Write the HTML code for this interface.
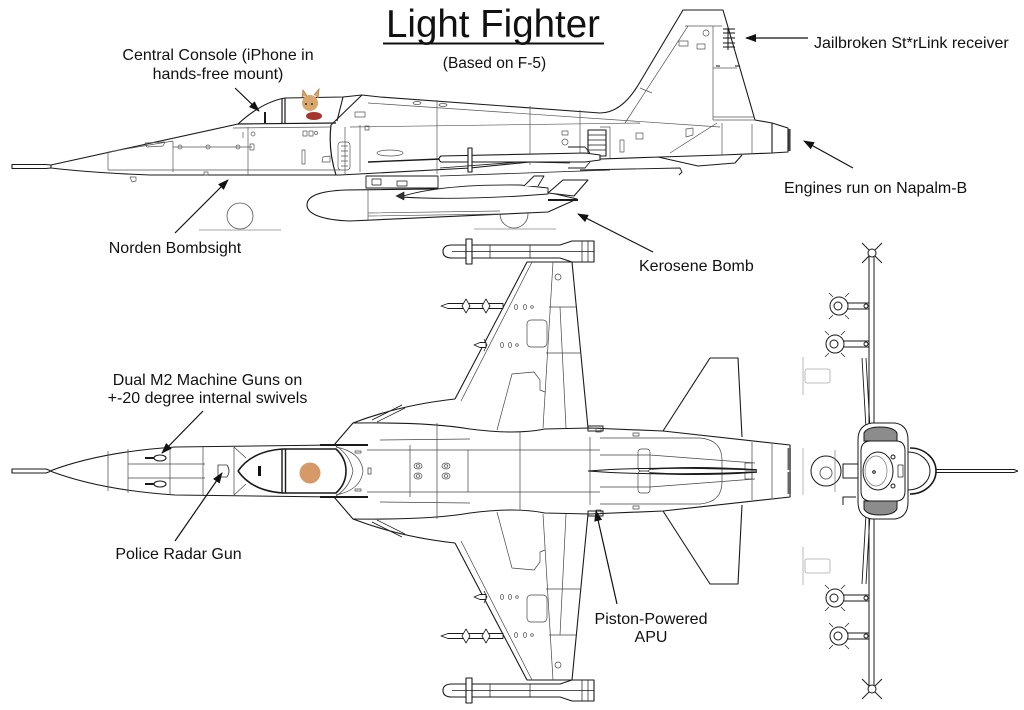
<!DOCTYPE html>
<html><head><meta charset="utf-8">
<style>
html,body{margin:0;padding:0;background:#fff;}
svg{display:block;}
text{font-family:"Liberation Sans",Arial,sans-serif;fill:#111;}
</style></head><body>
<svg width="1024" height="710" viewBox="0 0 1024 710" xmlns="http://www.w3.org/2000/svg">
<defs>
<marker id="ah" markerWidth="11" markerHeight="8" refX="10" refY="4" orient="auto" markerUnits="userSpaceOnUse">
<path d="M0,0 L11,4 L0,8 Z" fill="#111"/>
</marker>
</defs>
<rect width="1024" height="710" fill="#fff"/>

<!-- ================= SIDE VIEW ================= -->
<g fill="none" stroke="#1a1a1a" stroke-width="1.1" stroke-linejoin="round">
<circle cx="240" cy="216" r="13" stroke="#555" stroke-width="0.8"/>
<line x1="199" y1="230" x2="281" y2="230" stroke="#888" stroke-width="0.8"/>
<circle cx="514" cy="214" r="14" stroke="#555" stroke-width="0.8"/>
<line x1="474" y1="229" x2="556" y2="229" stroke="#888" stroke-width="0.8"/>

<path d="M12,164.5 L46,164.5 L51,165 L51,168 L46,168.5 L12,168.5 Z"/>
<path fill="#fff" d="M51,165 L238,124 Q262,102 285,98 L343,97 L362,95 L380,97 L600,113 C615,113 628,103 640,82 L683,10 L723,10 L755,120 L772,123 L772,153 L722,155 L660,157 L540,161 L470,168 L340,175 L150,175 Q95,173 51,168 Z"/>
<path d="M772,123 L788,128 L788,152 L772,153"/>
<line x1="789.5" y1="129" x2="789.5" y2="151" stroke-width="2.2" stroke="#444"/>
<path d="M658,157 L698,166 L735,163 L742,155"/>
<path d="M580,170 L680,168 L682,172 L679,175" stroke-width="0.9"/>

<!-- canopy -->
<path d="M282,98 L282,123 M285,98 L285,123" stroke-width="1.2"/>
<path d="M238,124 L336,123" stroke-width="1.2"/>
<path d="M343,97 L337,121"/>
<path d="M362,95 L331,125"/>
<line x1="265" y1="112" x2="265" y2="123" stroke-width="2"/>
<path d="M331,125 Q328,150 336,175" stroke-width="1.2"/>

<g stroke="#555" stroke-width="0.7">
<path d="M233,128 L330,127"/>
<path d="M108,152 L108,170 M108,152 L173,141 M173,141 L173,172 M248,127 L248,175"/>
<path d="M173,147 L252,147"/>
<circle cx="180" cy="147" r="2"/><circle cx="208" cy="147" r="2"/><circle cx="238" cy="147" r="2"/>
<path d="M108,170 L340,170"/>
<rect x="250" y="144" width="4" height="6"/>
<path d="M145,143 L165,142 L163,146 L147,147 Z"/>
<path d="M130,177 L136,177 L136,181 L132,182 Z"/>
<rect x="204" y="172" width="4" height="3"/>
<circle cx="253" cy="134" r="2"/><line x1="243" y1="132" x2="243" y2="138"/>
<rect x="303" y="131" width="4" height="5"/><rect x="309" y="131" width="4" height="5"/>
<circle cx="316" cy="133" r="1.5"/>
<rect x="302" y="150" width="3" height="14"/>
<path d="M323,157 L330,156 L330,162 L322,162 Z"/>
<rect x="338" y="142" width="12" height="28" rx="3"/>
<path d="M341,146 L348,146 M341,151 L348,151 M341,156 L348,156 M341,161 L348,161 M341,166 L348,166"/>
<path d="M345,127 L345,175 M360,125 L360,172"/>
<path d="M368,103 L720,127"/>
<path d="M350,127 L640,123"/>
<path d="M437,100 L437,174 M530,106 L530,165 M580,110 L580,162"/>
<rect x="355" y="112" width="10" height="5"/>
<rect x="365" y="126" width="4" height="4"/>
<ellipse cx="417" cy="103" rx="4" ry="1.5"/><ellipse cx="443" cy="105" rx="4" ry="1.5"/>
<ellipse cx="390" cy="153" rx="13" ry="3"/>
<rect x="562" y="131" width="6" height="4"/><circle cx="565" cy="142" r="3"/>
<rect x="620" y="140" width="4" height="12"/><rect x="636" y="133" width="7" height="6"/>
<path d="M686,129 L693,128 L693,135 L686,137 Z"/>
<path d="M717,123 L670,153"/>
<path d="M722,123 L722,155 M752,124 L752,154"/>
<path d="M600,127 L610,127 L610,158"/>
<!-- fin -->
<path d="M625,123 L688,26"/>
<path d="M685,26 L722,26"/>
<path d="M713,26 L713,120 M713,68 L737,68"/>
<path d="M713,120 L755,120 M713,117 L754,117"/>
<rect x="679" y="41" width="9" height="5"/><rect x="697" y="44" width="8" height="5"/>
<circle cx="706" cy="33" r="3"/>
<path d="M640,88 L652,93"/>
</g>
<!-- antenna -->
<g stroke="#111" stroke-width="1">
<path d="M728,28 L728,50 M723,29 L735,29 M723,33 L735,33 M723,38 L735,38 M723,43 L735,43 M723,47 L735,47"/>
<path d="M716,66 L720,66 M735,66 L740,66"/>
</g>
<!-- louvers -->
<rect x="588" y="130" width="18" height="26" fill="#fff"/>
<path d="M588,135 L606,135 M588,140 L606,140 M588,145 L606,145 M588,150 L606,150" stroke-width="0.8"/>
<!-- pylons under fuselage -->
<path d="M366,176 L438,176 L438,188 L366,188 Z" fill="#fff" stroke-width="0.9"/>
<rect x="372" y="179" width="9" height="6" stroke-width="0.7"/>
<rect x="397" y="181" width="10" height="5" stroke-width="0.7"/>
<path d="M440,176 L610,170" stroke-width="0.8"/>
<!-- missile -->
<path d="M368,162 L441,159" stroke-width="1.4"/>
<path d="M441,156 L585,153 L600,155 L600,160 L585,162 L441,162 Q437,159 441,156 Z" fill="#fff"/>
<path d="M468,148 L472,148 L472,172 L468,172 Z" fill="#fff"/>
<path d="M568,147 L585,147 L590,153 M568,168 L585,168 L590,162" stroke-width="0.9"/>
<path d="M440,168 L520,162 L570,163" stroke-width="0.8"/>
<!-- drop tank -->
<path fill="#fff" d="M307,205 C307,195 322,191 345,190 L530,188 L577,199 L548,212 L350,221 C322,220 307,214 307,205 Z"/>
<path d="M368,190 L368,221 M368,213 L500,211 M368,216 L500,214" stroke="#555" stroke-width="0.7"/>
<path fill="#fff" d="M400,197 Q440,184 520,185 L548,188 L548,194 L520,196 Q450,200 400,197 Z" stroke-width="0.9"/>
<path d="M548,193 L563,180 L588,180 L574,196 Z" fill="#fff"/>
<path d="M548,200 L578,200" stroke-width="2"/>
<path d="M524,186 L534,176 L544,176 L538,186" fill="#fff" stroke-width="0.9"/>
<path d="M396,196 L404,192 L404,200 Z" fill="#333" stroke-width="0.6"/>
</g>
<!-- pilot character -->
<circle cx="310" cy="103" r="8" fill="#d9a76c"/>
<path d="M302,97 L303,90 L307,96 M314,95 L319,89 L318,98" fill="#d9a76c" stroke="#b07a45" stroke-width="0.8"/>
<ellipse cx="314" cy="116" rx="8" ry="4" fill="#a8342e"/>
<circle cx="306" cy="104" r="1" fill="#333"/><circle cx="312" cy="104" r="1" fill="#333"/>

<!-- ================= TOP VIEW ================= -->
<g id="th" fill="none" stroke="#1a1a1a" stroke-width="1.1" stroke-linejoin="round">
<path d="M12,471 L12,469 L46,469 L50,470.5"/>
<path d="M50,471 Q100,452 175,447 L334,445 L353,423 Q400,405 455,399"/>
<path d="M353,423 Q430,422 470,429 Q515,435 545,429 L590,428 L663,431 L790,445 L790,471"/>
<path d="M455,399 L527,262 L572,262 L588,428"/>
<path d="M663,431 L710,358 L738,358 L742,437"/>
<path d="M320,445 L368,445" stroke-width="2"/>
<path d="M372,420 L402,405" stroke-width="0.9"/>
<path d="M377,422 L405,408" stroke-width="0.7"/>
<g stroke="#444" stroke-width="0.7">
<path d="M461,401 L532,262"/>
<path d="M553,262 L543,428"/>
<path d="M560,307 L566,428"/>
<path d="M549,307 L576,307 M546,353 L581,353"/>
<path d="M497,430 L512,374 L534,372 L540,380 L540,390 L545,392"/>
<rect x="527" y="320" width="20" height="27" rx="4"/>
<circle cx="558" cy="277" r="3"/>
<ellipse cx="516" cy="307" rx="1.5" ry="2.5"/><ellipse cx="525" cy="307" rx="1.5" ry="2.5"/><circle cx="532" cy="307" r="1.3"/>
<ellipse cx="502" cy="345" rx="1.5" ry="2.5"/><ellipse cx="510" cy="345" rx="1.5" ry="2.5"/><circle cx="517" cy="345" r="1.3"/>
<path d="M108,451 L108,471 M128,449 L128,471 M170,447 L170,471 M203,447 L203,471 M234,447 L234,471"/>
<path d="M128,464 L205,464"/>
<path d="M234,447 L246,458"/>
<path d="M336,446 Q350,455 353,471"/>
<path d="M336,447 Q361,452 363,471"/>
<path d="M367,450 L600,450"/>
<path d="M410,445 L410,471 M437,423 L437,471 M468,450 L468,471 M520,432 L520,471 M590,437 L590,471"/>
<path d="M380,440 L470,439"/>
<path d="M600,438 L700,438 Q722,440 722,460 L722,471"/>
<path d="M600,455 L650,455 L755,463"/>
<path d="M752,442 L752,471 M772,444 L772,471"/>
<rect x="745" y="463" width="7" height="7"/>
<rect x="638" y="449" width="12" height="22" rx="3"/>
<ellipse cx="418" cy="466" rx="4" ry="3"/><ellipse cx="418" cy="466" rx="1.8" ry="1.3"/>
<ellipse cx="446" cy="466" rx="4" ry="3"/><ellipse cx="446" cy="466" rx="1.8" ry="1.3"/>
<rect x="596" y="428" width="5" height="4"/>
<rect x="633" y="433" width="6" height="3"/>
<rect x="355" y="451" width="6" height="2"/>
</g>
<rect x="588" y="426" width="15" height="5" stroke-width="1"/>
<!-- canopy -->
<path d="M238,471 Q252,451 283,449 L336,449 Q346,458 346,471" stroke-width="1.6"/>
<path d="M282,449 L282,471 M285.5,449 L285.5,471" stroke-width="1.4"/>
<!-- gun -->
<ellipse cx="160" cy="458" rx="6" ry="3"/>
<path d="M145,458 L154,458" stroke-width="2"/>
<!-- center spike -->
<path d="M588,471 Q650,466 757,470" stroke-width="1"/>
<path d="M650,469 Q700,466 757,470" stroke-width="1.4"/>
<!-- nozzle -->
<rect x="787.5" y="448" width="3.5" height="22" fill="#666" stroke="none"/>
<!-- wingtip missile -->
<path fill="#fff" d="M452,245 L560,245 L572,241 L594,241 L594,262 L572,262 L560,258 L452,258 Q443,258 443,251.5 Q443,245 452,245 Z"/>
<path d="M466,239 L472,239 L472,264 L466,264 Z" fill="#fff"/>
<path d="M560,251.5 L594,251.5 M452,251.5 L560,251.5 M490,245 L490,258 M530,245 L530,258" stroke-width="0.7"/>
<path d="M582,241 L582,262 M588,241 L588,262" stroke-width="0.7"/>
<!-- rockets -->
<path d="M441,306 L448,303.5 L503,303.5 L503,308.5 L448,308.5 Z" fill="#fff" stroke-width="0.9"/>
<path d="M466,299 L470,306 L466,313 L462,306 Z M486,299 L490,306 L486,313 L482,306 Z" fill="#fff" stroke-width="0.8"/>
<path d="M474,345 L480,342.5 L486,342.5 L486,347.5 L480,347.5 Z" fill="#fff" stroke-width="0.9"/>
<path d="M484,339 L487,345 L484,351" stroke-width="0.8"/>
</g>
<use href="#th" transform="matrix(1 0 0 -1 0 942)"/>
<!-- non-mirrored top details -->
<rect x="258" y="466" width="3" height="10" fill="#111"/>
<circle cx="310" cy="473" r="10.5" fill="#d69a68"/>
<path d="M218,465 L227,465 Q231,471 227,477 L218,477 Z" fill="none" stroke="#333" stroke-width="0.8"/>
<rect x="368" y="468" width="3" height="6" fill="none" stroke="#333" stroke-width="0.7"/>

<!-- ================= FRONT VIEW ================= -->
<g id="fh" fill="none" stroke="#1a1a1a" stroke-width="1">
<line x1="869" y1="252" x2="869" y2="471"/>
<line x1="874" y1="252" x2="874" y2="471"/>
<line x1="862" y1="243" x2="882" y2="263"/>
<line x1="882" y1="243" x2="862" y2="263"/>
<circle cx="872" cy="253" r="4" fill="#fff"/>
<path d="M862,358 L866,428 M866,358 L870,428" stroke-width="0.9"/>
<circle cx="839" cy="306" r="9" fill="#fff"/>
<circle cx="838" cy="306" r="4"/>
<path d="M848,303 L869,303 M848,309 L869,309"/>
<circle cx="866" cy="306" r="2"/>
<path d="M833,297 L829,293 M845,297 L849,293 M833,315 L829,319 M845,315 L849,319" stroke-width="0.7"/>
<circle cx="835" cy="344" r="9" fill="#fff"/>
<circle cx="834" cy="344" r="4"/>
<path d="M844,341 L869,341 M844,347 L869,347"/>
<circle cx="866" cy="344" r="2"/>
<path d="M829,335 L825,331 M841,335 L845,331 M829,353 L825,357 M841,353 L845,357" stroke-width="0.7"/>
<g stroke="#aaa" stroke-width="0.8"><line x1="803" y1="357" x2="803" y2="395"/><rect x="805" y="369" width="25" height="14" rx="2"/></g>
<path d="M858,471 L858,440 Q858,425 872,423 L895,423 Q908,425 908,440 L908,471" fill="#fff"/>
<path d="M864,441 L864,433 Q867,427 880,427 Q894,427 897,433 L897,441 Z" fill="#8c8c8c"/>
<path d="M861,471 L861,451 Q861,441 871,441 L896,441 Q905,441 905,451 L905,471"/>
<path d="M936,469.5 L1014,469.5 L1018,471"/>
<path d="M910,448 A26 23 0 0 1 936,471" stroke-width="1.6"/>
<path d="M908,452 A22 19 0 0 1 930,471"/>
</g>
<use href="#fh" transform="matrix(1 0 0 -1 0 942)"/>
<g fill="none" stroke="#1a1a1a" stroke-width="1">
<line x1="803" y1="448" x2="803" y2="495" stroke="#aaa" stroke-width="0.8"/>
<circle cx="826" cy="471" r="15" fill="#fff"/>
<circle cx="826" cy="473" r="6" stroke="#666"/>
<line x1="835" y1="450" x2="835" y2="492" stroke="#777" stroke-width="0.7"/>
<rect x="843" y="464" width="15" height="14" fill="#fff"/>
<path d="M856,497 L843,497 L843,505"/>
<ellipse cx="878" cy="471" rx="15" ry="19"/>
<ellipse cx="876" cy="471" rx="11" ry="15" stroke="#777" stroke-width="0.7"/>
<circle cx="874" cy="472" r="1.3"/>
<circle cx="893" cy="457" r="2"/><circle cx="893" cy="486" r="2"/>
<rect x="898" y="465" width="5" height="12" stroke-width="0.7"/>
</g>

<!-- ================= LABELS ================= -->
<text x="493" y="37" font-size="38.5" text-anchor="middle">Light Fighter</text>
<line x1="383" y1="43.5" x2="604" y2="43.5" stroke="#111" stroke-width="2"/>
<text x="494.5" y="68" font-size="15.5" text-anchor="middle">(Based on F-5)</text>
<g font-size="16">
<text x="218" y="60" text-anchor="middle">Central Console (iPhone in</text>
<text x="218" y="79" text-anchor="middle">hands-free mount)</text>
<text x="175" y="253" text-anchor="middle">Norden Bombsight</text>
<text x="814" y="48">Jailbroken St*rLink receiver</text>
<text x="784" y="193">Engines run on Napalm-B</text>
<text x="639" y="271">Kerosene Bomb</text>
<text x="207.5" y="385" text-anchor="middle">Dual M2 Machine Guns on</text>
<text x="207.5" y="403" text-anchor="middle">+-20 degree internal swivels</text>
<text x="178.5" y="559" text-anchor="middle">Police Radar Gun</text>
<text x="651" y="624" text-anchor="middle">Piston-Powered</text>
<text x="651" y="642" text-anchor="middle">APU</text>
</g>
<!-- arrows -->
<g stroke="#111" stroke-width="1.2" fill="none" marker-end="url(#ah)">
<line x1="235" y1="88" x2="259" y2="111"/>
<line x1="175" y1="233" x2="228" y2="180"/>
<line x1="808" y1="38" x2="746" y2="38"/>
<line x1="853" y1="168" x2="804" y2="141"/>
<line x1="653" y1="252" x2="578" y2="214"/>
<line x1="203" y1="411" x2="162" y2="453"/>
<line x1="175" y1="541" x2="222" y2="473"/>
<line x1="617" y1="604" x2="596" y2="511"/>
</g>
</svg>
</body></html>
